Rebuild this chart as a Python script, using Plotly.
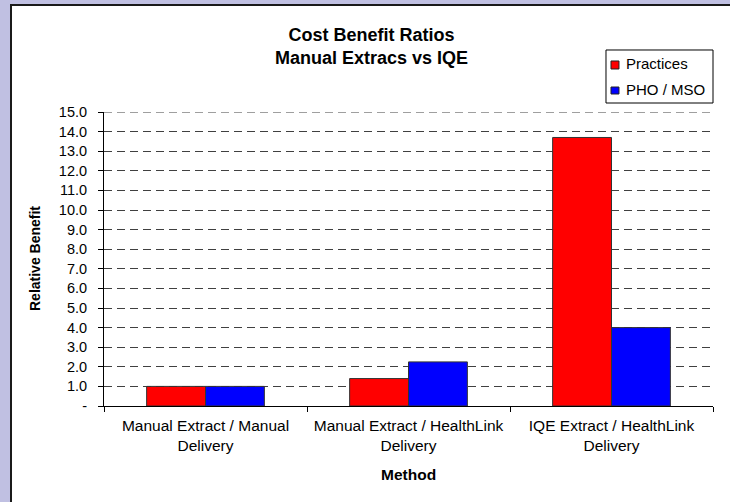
import plotly.graph_objects as go

categories = ["Manual Extract / Manual<br>Delivery",
              "Manual Extract / HealthLink<br>Delivery",
              "IQE Extract / HealthLink<br>Delivery"]
series_names = ["Practices", "PHO / MSO"]
practices = [1.0, 1.4, 13.7]
pho_mso = [1.0, 2.25, 4.0]
y_max = 15
y_tickvals = list(range(0, y_max + 1))
y_ticktext = ["-"] + [f"{v:.1f}" for v in range(1, y_max + 1)]

RED = "#ff0000"
BLUE = "#0000ff"
GRID = "#404040"
DASH = "8px,5px"
font = "Liberation Sans, Arial, sans-serif"

fig = go.Figure()
fig.add_trace(go.Bar(name=series_names[0], x=categories, y=practices, showlegend=False,
                     marker=dict(color=RED, line=dict(color="#333333", width=1))))
fig.add_trace(go.Bar(name=series_names[1], x=categories, y=pho_mso, showlegend=False,
                     marker=dict(color=BLUE, line=dict(color="#333333", width=1))))

shapes = [
    # white chart area with dark border
    dict(type="rect", xref="paper", yref="paper",
         x0=-0.1527, x1=1.1, y0=-0.5, y1=1.3639,
         fillcolor="white", line=dict(color="#1a1a1a", width=2), layer="below"),
    # top gridline (plotly omits the one at the plot edge)
    dict(type="line", xref="paper", yref="y", x0=0, x1=1, y0=y_max, y1=y_max,
         line=dict(color=GRID, width=1, dash=DASH), layer="below"),
    # legend box
    dict(type="rect", xref="paper", yref="paper",
         x0=0.8243, x1=1.0, y0=1.0306, y1=1.2109,
         fillcolor="white", line=dict(color="black", width=1)),
    dict(type="rect", xref="paper", yref="paper",
         x0=0.8325, x1=0.8456, y0=1.1463, y1=1.1735,
         fillcolor=RED, line=dict(color="#222222", width=1)),
    dict(type="rect", xref="paper", yref="paper",
         x0=0.8325, x1=0.8456, y0=1.0612, y1=1.085,
         fillcolor=BLUE, line=dict(color="#222222", width=1)),
]
annotations = [
    dict(text=series_names[0], xref="paper", yref="paper", x=0.8539, y=1.1633,
         xanchor="left", yanchor="middle", showarrow=False, font=dict(size=15)),
    dict(text=series_names[1], xref="paper", yref="paper", x=0.8539, y=1.0782,
         xanchor="left", yanchor="middle", showarrow=False, font=dict(size=15)),
    dict(text="<b>Relative Benefit</b>", xref="paper", yref="paper", x=-0.1133, y=0.5,
         xanchor="center", yanchor="middle", textangle=-90, showarrow=False,
         font=dict(size=14)),
    dict(text="<b>Method</b>", xref="paper", yref="paper", x=0.5, y=-0.2313,
         xanchor="center", yanchor="middle", showarrow=False, font=dict(size=15.5)),
]

fig.update_layout(
    width=730, height=502,
    margin=dict(l=104, r=17, t=112, b=96, autoexpand=False),
    paper_bgcolor="#c0c0e2",
    plot_bgcolor="white",
    barmode="group", bargap=0.42, bargroupgap=0,
    font=dict(family=font, size=14, color="black"),
    title=dict(text="<b>Cost Benefit Ratios<br>Manual Extracs vs IQE</b>",
               x=0.509, xref="container", y=1 - 41 / 502, yref="container",
               yanchor="middle", xanchor="center", font=dict(size=18, family=font)),
    showlegend=False,
    shapes=shapes,
    annotations=annotations,
)
fig.update_xaxes(showline=True, linecolor="black", linewidth=1,
                 ticks="outside", ticklen=5, tickcolor="black",
                 tickson="boundaries", showgrid=False, automargin=False,
                 tickangle=0, ticklabelstandoff=5, tickfont=dict(size=15.5))
fig.update_yaxes(range=[0, y_max], tickvals=y_tickvals, ticktext=y_ticktext,
                 showline=True, linecolor="black", linewidth=1,
                 ticks="outside", ticklen=5, tickcolor="black",
                 ticklabelstandoff=8, automargin=False,
                 showgrid=True, gridcolor=GRID, griddash=DASH, gridwidth=1,
                 zeroline=False, tickfont=dict(size=14.5))
fig.write_html("out.html", config={"displayModeBar": False},
               post_script="document.body.style.margin='0';document.body.style.overflow='hidden';")
